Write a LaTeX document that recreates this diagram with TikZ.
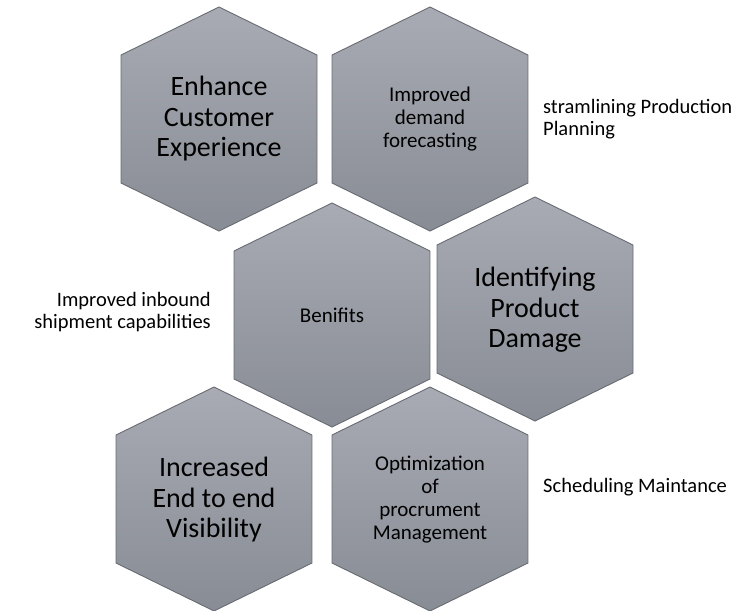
\documentclass[tikz,border=0pt]{standalone}
\usepackage{fontspec}
\setmainfont{Carlito}
\usepackage{tikz}

\definecolor{celltop}{RGB}{168,171,179}
\definecolor{cellbot}{RGB}{136,140,149}
\definecolor{celledge}{RGB}{104,107,114}

% one grey hexagon round a centre (x,y), y counted downwards
\newcommand{\hexcell}[2]{%
  \draw[cell] (#1,#2-112) -- (#1+98,#2-64) -- (#1+98,#2+64) -- (#1,#2+112)
    -- (#1-98,#2+64) -- (#1-98,#2-64) -- cycle;}

\begin{document}
\begin{tikzpicture}[x=1pt, y=-1pt,
    cell/.style = {draw=celledge, line width=0.9pt, top color=celltop, bottom color=cellbot},
    big/.style = {align=center, font=\fontsize{28}{30.5}\selectfont},
    mid/.style = {align=center, font=\fontsize{21}{23}\selectfont},
    aside/.style = {inner sep=0pt, font=\fontsize{20.5}{21.5}\selectfont}]
	\useasboundingbox (0,0) rectangle (737,611);
	\hexcell{219}{119}
	\hexcell{430}{119}
	\hexcell{332}{315}
	\hexcell{535}{309}
	\hexcell{214}{499}
	\hexcell{430}{499}
	\node (enhance) [big] at (219,119) {Enhance\\Customer\\Experience};
	\node (demand) [mid] at (430,119) {Improved\\demand\\forecasting};
	\node (benefits) [mid] at (332,315) {Benifits};
	\node (damage) [big] at (535,310) {Identifying\\Product\\Damage};
	\node (visibility) [big] at (214,500) {Increased\\End to end\\Visibility};
	\node (procure) [mid] at (430,500) {Optimization\\of\\procrument\\Management};
	\node (planning) [aside, anchor=west, align=left] at (543,119) {stramlining Production\\Planning};
	\node (inbound) [aside, anchor=east, align=right] at (211,312) {Improved inbound\\shipment capabilities};
	\node (upkeep) [aside, anchor=west] at (543,487) {Scheduling Maintance};
\end{tikzpicture}
\end{document}
